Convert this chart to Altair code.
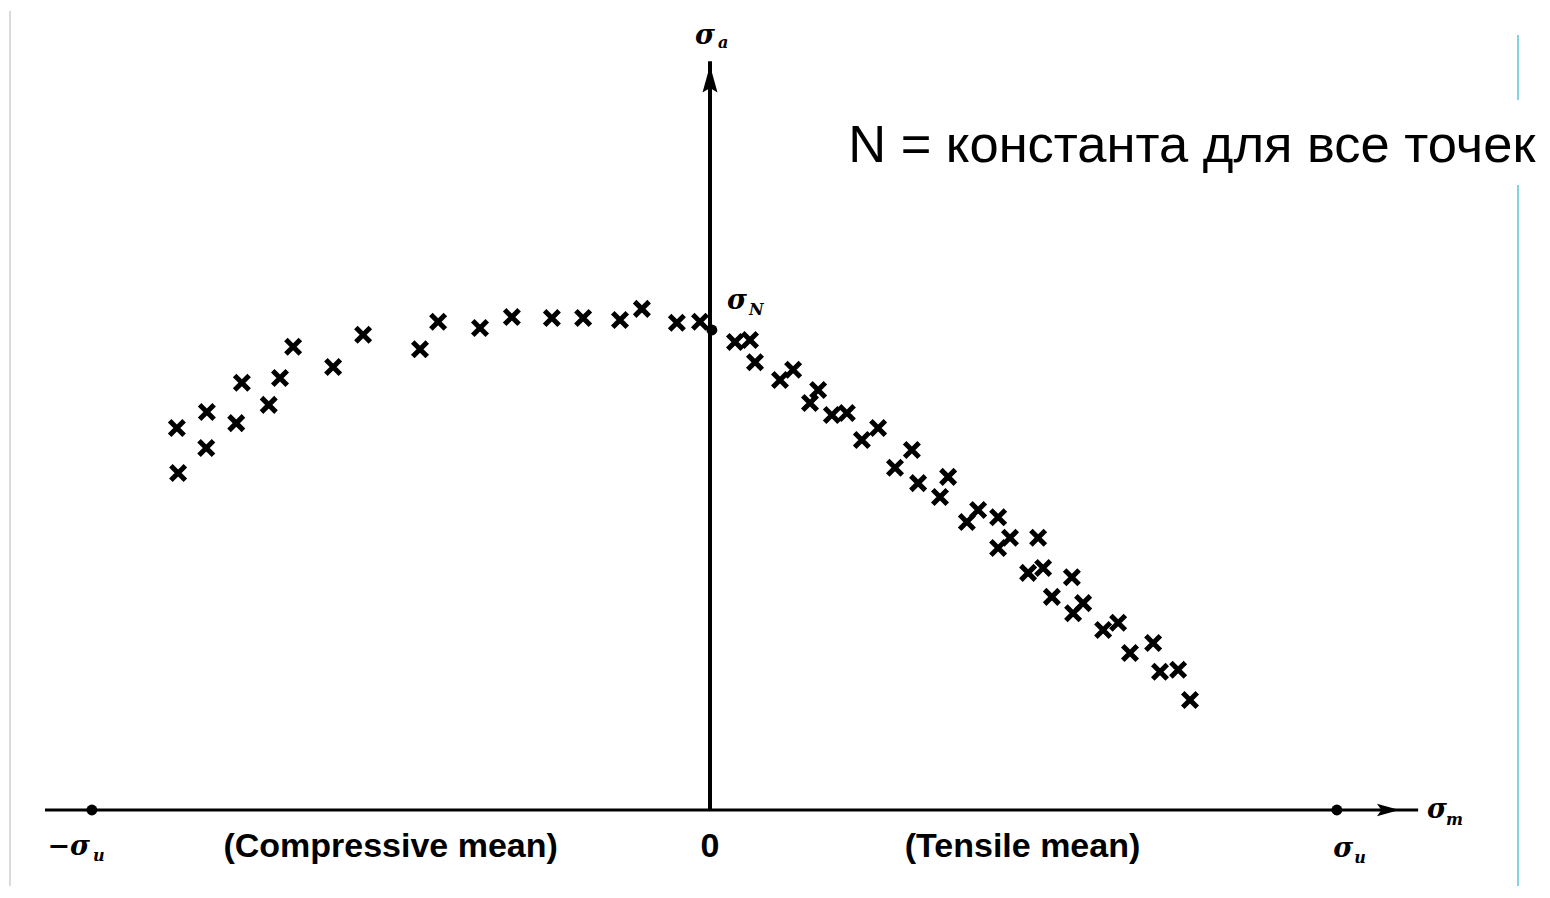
import altair as alt
import pandas as pd

# Data values in units of sigma_u (x: mean stress, y: alternating stress, sigma_N = 1)
comp_x = [-0.853, -0.851, -0.805, -0.806, -0.758, -0.749, -0.706, -0.688, -0.667, -0.603,
          -0.555, -0.464, -0.435, -0.368, -0.317, -0.253, -0.203, -0.144, -0.109, -0.053, -0.016]
comp_y = [0.796, 0.702, 0.829, 0.754, 0.806, 0.890, 0.844, 0.900, 0.965, 0.923,
          0.990, 0.960, 1.017, 1.004, 1.027, 1.025, 1.025, 1.021, 1.044, 1.015, 1.017]

tens_x = [0.040, 0.064, 0.072, 0.112, 0.133, 0.160, 0.173, 0.195, 0.219, 0.243,
          0.269, 0.296, 0.323, 0.333, 0.368, 0.381, 0.411, 0.429, 0.461, 0.461,
          0.480, 0.525, 0.509, 0.533, 0.579, 0.547, 0.581, 0.597, 0.629, 0.653,
          0.672, 0.709, 0.720, 0.749, 0.768]
tens_y = [0.975, 0.979, 0.933, 0.896, 0.917, 0.848, 0.875, 0.823, 0.827, 0.771,
          0.796, 0.713, 0.750, 0.681, 0.652, 0.694, 0.600, 0.625, 0.610, 0.546,
          0.567, 0.567, 0.494, 0.504, 0.485, 0.444, 0.410, 0.431, 0.375, 0.390,
          0.327, 0.348, 0.288, 0.292, 0.229]

# key points on the axes: -sigma_u, sigma_u, sigma_N
key_x = [-0.989, 1.003, 0.003]
key_y = [0.0, 0.0, 1.0]

# axis extents
haxis_x = [-1.064, 1.133]
vaxis_y = [0.0, 1.56]
harrow_x = 1.085
varrow_y = 1.52

# label texts
caption = "N = константа для все точек"
caption_x = 0.221
caption_y = 1.35
bottom_labels = ["(Compressive mean)", "0", "(Tensile mean)"]
bottom_x = [-0.511, 0.0, 0.500]
bottom_y = -0.078

sigma_t = ["−σ", "σ", "σ", "σ", "σ"]
sigma_x = [-1.026, 1.013, 1.163, 0.043, -0.008]
sigma_y = [-0.077, -0.082, 0.0, 1.06, 1.613]
sub_text = ["u", "u", "m", "N", "a"]
sub_x = [-0.978, 1.040, 1.191, 0.074, 0.021]
sub_y = [-0.096, -0.100, -0.020, 1.042, 1.597]

XD = [-1.1232, 1.3312]
YD = [-0.15833, 1.67083]
xs = alt.Scale(domain=XD, nice=False, zero=False)
ys = alt.Scale(domain=YD, nice=False, zero=False)

pts = pd.DataFrame({"x": comp_x + tens_x, "y": comp_y + tens_y})
keys = pd.DataFrame({"x": key_x, "y": key_y})

X = alt.X("x:Q", scale=xs, axis=None)
Y = alt.Y("y:Q", scale=ys, axis=None)

xmarks = alt.Chart(pts).mark_point(
    shape="M-1,-1L1,1M-1,1L1,-1", filled=False, strokeWidth=5, size=210,
    color="black", opacity=1
).encode(x=X, y=Y)

hax = alt.Chart(pd.DataFrame({"x": [haxis_x[0]], "x2": [haxis_x[1]], "y": [0.0]})).mark_rule(
    color="black", strokeWidth=3).encode(x=X, x2="x2:Q", y=Y)
vax = alt.Chart(pd.DataFrame({"x": [0.0], "y": [vaxis_y[0]], "y2": [vaxis_y[1]]})).mark_rule(
    color="black", strokeWidth=4).encode(x=X, y=Y, y2="y2:Q")

harrow = alt.Chart(pd.DataFrame({"x": [harrow_x], "y": [0.0]})).mark_point(
    shape="M1,0L-1,-0.55L-0.6,0L-1,0.55Z", filled=True, size=500, color="black", opacity=1
).encode(x=X, y=Y)
varrow = alt.Chart(pd.DataFrame({"x": [0.0], "y": [varrow_y]})).mark_point(
    shape="M0,-1L0.5,0.8L0,0.5L-0.5,0.8Z", filled=True, size=900, color="black", opacity=1
).encode(x=X, y=Y)

dots = alt.Chart(keys).mark_point(shape="circle", filled=True, size=120, color="black",
                                  opacity=1).encode(x=X, y=Y)

# decorative page lines: light grey at left, light blue at right
gray = alt.Chart(pd.DataFrame({"x": [-1.12], "y": [-0.1667], "y2": [1.665]})).mark_rule(
    color="#cfcfcf", strokeWidth=1.5).encode(x=X, y=Y, y2="y2:Q")
blue = alt.Chart(pd.DataFrame({"x": [1.2928, 1.2928], "y": [1.4792, -0.1667],
                               "y2": [1.6146, 1.3021]})).mark_rule(
    color="#86d2e2", strokeWidth=2).encode(x=X, y=Y, y2="y2:Q")

cap = alt.Chart(pd.DataFrame({"x": [caption_x], "y": [caption_y], "t": [caption]})).mark_text(
    align="left", baseline="alphabetic", fontSize=52.5, font="Liberation Sans", color="black"
).encode(x=X, y=Y, text="t:N")

bl = alt.Chart(pd.DataFrame({"x": bottom_x, "y": [bottom_y] * 3, "t": bottom_labels})).mark_text(
    align="center", baseline="middle", fontSize=34, fontWeight="bold", font="Liberation Sans",
    color="black"
).encode(x=X, y=Y, text="t:N")

sig = alt.Chart(pd.DataFrame({"x": sigma_x, "y": sigma_y, "t": sigma_t})).mark_text(
    align="center", baseline="middle", fontSize=27, fontWeight="bold", fontStyle="italic",
    font="DejaVu Serif", color="black"
).encode(x=X, y=Y, text="t:N")

sub = alt.Chart(pd.DataFrame({"x": sub_x, "y": sub_y, "t": sub_text})).mark_text(
    align="center", baseline="middle", fontSize=16, fontWeight="bold", fontStyle="italic",
    font="DejaVu Serif", color="black"
).encode(x=X, y=Y, text="t:N")

chart = alt.layer(gray, blue, hax, vax, harrow, varrow, xmarks, dots, cap, bl, sig, sub).properties(
    width=1534, height=878, padding=0,
    autosize=alt.AutoSizeParams(type="none")
).configure_view(strokeWidth=0, stroke="transparent")

chart.save("out.html", embed_options={"renderer": "svg", "actions": False})
